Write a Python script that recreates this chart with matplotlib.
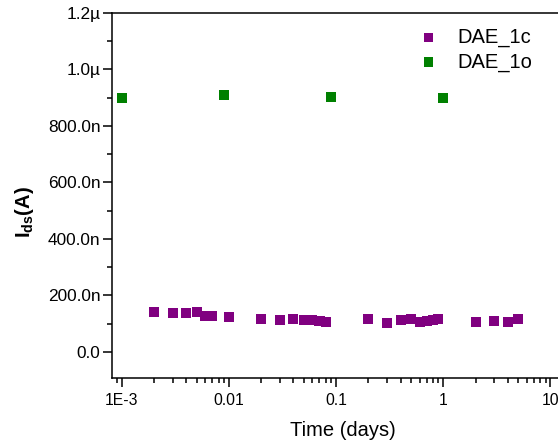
import matplotlib
matplotlib.use("Agg")
import matplotlib.pyplot as plt
from matplotlib.ticker import FuncFormatter, LogLocator, MultipleLocator, NullFormatter

plt.rcParams['font.family'] = ['Liberation Sans', 'DejaVu Sans']
plt.rcParams['mathtext.fontset'] = 'custom'
plt.rcParams['mathtext.rm'] = 'Liberation Sans'
plt.rcParams['mathtext.bf'] = 'Liberation Sans:bold'

# DAE_1c (closed) data
t_1c = [0.002, 0.003, 0.004, 0.005, 0.006, 0.007, 0.01, 0.02, 0.03, 0.04, 0.05,
        0.06, 0.07, 0.08, 0.2, 0.3, 0.4, 0.5, 0.6, 0.7, 0.8, 0.9, 2, 3, 4, 5]
ids_1c = [139.5e-9, 137e-9, 137e-9, 140e-9, 125e-9, 125e-9, 122e-9, 115e-9, 112e-9,
          117e-9, 111e-9, 113e-9, 109e-9, 105e-9, 117e-9, 101.6e-9, 111e-9, 115e-9,
          105e-9, 109e-9, 111e-9, 115e-9, 106e-9, 107.5e-9, 104e-9, 115e-9]

# DAE_1o (open) data
t_1o = [0.001, 0.009, 0.09, 1]
ids_1o = [898e-9, 909e-9, 902e-9, 898e-9]

fig = plt.figure(figsize=(5.58, 4.48), dpi=100)
# axes runs past the right edge of the picture, like the original crop
ax = fig.add_axes([112.3 / 558, 69.7 / 448, 447.6 / 558, 365.5 / 448])

ax.scatter(t_1c, ids_1c, marker='s', s=52, color='#800080', edgecolors='none', label='DAE_1c')
ax.scatter(t_1o, ids_1o, marker='s', s=52, color='#008000', edgecolors='none', label='DAE_1o')

ax.set_xscale('log')
ax.set_xlim(0.000817, 12.24)
ax.set_ylim(-0.094e-6, 1.2e-6)


def fmt_x(v, pos):
    labels = {0.001: '1E-3', 0.01: '0.01', 0.1: '0.1', 1: '1', 10: '10'}
    for k, s in labels.items():
        if abs(v - k) < k * 1e-6:
            return s
    return ''


def fmt_y(v, pos):
    if abs(v) < 1e-12:
        return '0.0'
    if abs(v) >= 1e-6 - 1e-12:
        return f'{v / 1e-6:.1f}\u00b5'
    return f'{v / 1e-9:.1f}n'


ax.xaxis.set_major_locator(LogLocator(base=10, numticks=20))
ax.xaxis.set_minor_locator(LogLocator(base=10, subs=range(2, 10), numticks=20))
ax.xaxis.set_major_formatter(FuncFormatter(fmt_x))
ax.xaxis.set_minor_formatter(NullFormatter())
ax.yaxis.set_major_locator(MultipleLocator(200e-9))
ax.yaxis.set_minor_locator(MultipleLocator(100e-9))
ax.yaxis.set_major_formatter(FuncFormatter(fmt_y))

ax.tick_params(which='both', direction='out', top=False, right=False, width=1.1)
ax.tick_params(which='major', length=6.5)
ax.tick_params(which='minor', length=3.5)
ax.tick_params(axis='x', labelsize=11.3, pad=4)
ax.tick_params(axis='y', labelsize=12.4, pad=2)
for sp in ax.spines.values():
    sp.set_linewidth(1.1)

ax.set_xlabel('Time (days)', fontsize=14.5)
ax.set_ylabel(r'$\mathbf{I_{ds}}$(A)', fontsize=14.5, fontweight='bold')
ax.xaxis.set_label_coords((343 - 112.3) / 447.6, -(421 - 378.3) / 365.5)
ax.yaxis.set_label_coords(-(112.3 - 36) / 447.6, (378.3 - 212) / 365.5)

ax.legend(loc='upper left', bbox_to_anchor=(418 / 558, 1 - 28 / 448),
          bbox_transform=fig.transFigure, frameon=False, fontsize=14.5,
          handlelength=1, handletextpad=0.95, borderpad=0, borderaxespad=0,
          labelspacing=0.25, markerscale=0.9)

fig.savefig('out.png', dpi=100)
